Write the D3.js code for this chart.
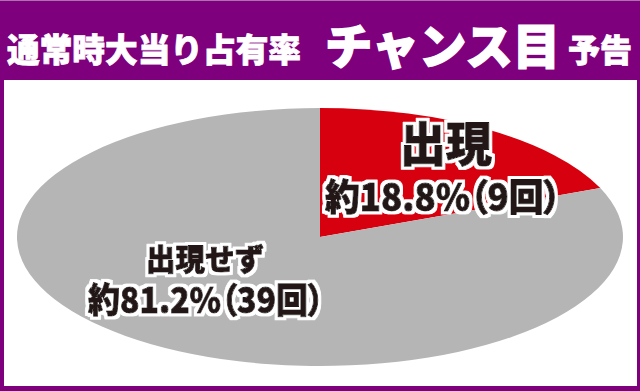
<!DOCTYPE html>
<html><head><meta charset="utf-8">
<script src="https://cdn.jsdelivr.net/npm/d3@7"></script>
<style>
html,body{margin:0;padding:0;background:#fff;}
svg{display:block;}
text{font-family:"Noto Sans CJK JP","Noto Sans CJK SC",sans-serif;}
.pct{font-feature-settings:"palt";}
</style></head>
<body>
<script>
const titleParts = ["通常時大当り占有率", "チャンス目", "予告"];
const categories = ["出現", "出現せず"];
const percents = [18.8, 81.2];
const counts = [9, 39];
const colors = ["#d7000f", "#b5b5b6"];

const W = 640, H = 391;
const svg = d3.select("body").append("svg").attr("width", W).attr("height", H);

// halo filter
const defs = svg.append("defs");
function haloFilter(id, r){
  const f = defs.append("filter").attr("id", id)
    .attr("x","-10%").attr("y","-30%").attr("width","120%").attr("height","160%");
  f.append("feMorphology").attr("in","SourceAlpha").attr("operator","dilate").attr("radius",r).attr("result","d");
  f.append("feGaussianBlur").attr("in","d").attr("stdDeviation",0.5).attr("result","db");
  f.append("feFlood").attr("flood-color","#fff").attr("result","w");
  f.append("feComposite").attr("in","w").attr("in2","db").attr("operator","in").attr("result","halo");
  const m = f.append("feMerge");
  m.append("feMergeNode").attr("in","halo");
  m.append("feMergeNode").attr("in","SourceGraphic");
}
haloFilter("halo3", 3.2);
haloFilter("halo2", 2.8);

// frame
svg.append("rect").attr("x",0).attr("y",0).attr("width",W).attr("height",H).attr("fill","#7f007c");
svg.append("rect").attr("x",0).attr("y",0).attr("width",W).attr("height",1).attr("fill","#b070b0");
svg.append("rect").attr("x",4).attr("y",80).attr("width",633).attr("height",306).attr("fill","#fff");

// title
const t = svg.append("g").attr("fill","#fff").attr("font-weight",900)
  .attr("stroke","#fff").attr("stroke-width",0.8);
t.append("text").attr("x",7).attr("y",48).attr("dominant-baseline","central")
  .attr("font-size",33).attr("textLength",294).attr("lengthAdjust","spacingAndGlyphs").text(titleParts[0]);
t.append("text").attr("x",325).attr("y",43).attr("dominant-baseline","central")
  .attr("font-size",48).attr("stroke-width",1.5).attr("textLength",235).attr("lengthAdjust","spacingAndGlyphs").text(titleParts[1]);
t.append("text").attr("x",568).attr("y",48).attr("dominant-baseline","central")
  .attr("font-size",32).attr("textLength",64).attr("lengthAdjust","spacingAndGlyphs").text(titleParts[2]);

// pie (elliptical)
const cx = 320, cy = 237, rx = 303, ry = 129;
const pie = d3.pie().sort(null).value(d => d)(percents);
const arc = d3.arc().innerRadius(0).outerRadius(rx);
const g = svg.append("g").attr("transform", `translate(${cx},${cy}) scale(1,${ry/rx})`);
g.selectAll("path").data(pie).join("path")
  .attr("d", arc).attr("fill", (d,i) => colors[i]);

// labels
function label(x, y, txt, size, len, filt, cls){
  svg.append("text").attr("x",x).attr("y",y)
    .attr("class", cls || null)
    .attr("text-anchor","middle").attr("dominant-baseline","central")
    .attr("font-weight",900).attr("font-size",size)
    .attr("fill","#231815").attr("stroke","#231815").attr("stroke-width",1)
    .attr("stroke-linejoin","round").attr("filter",`url(#${filt})`)
    .attr("textLength",len).attr("lengthAdjust","spacingAndGlyphs")
    .text(txt);
}
label(446, 140, categories[0], 47, 92, "halo3");
label(443, 195, `約${percents[0]}%（${counts[0]}回）`, 37, 236, "halo3", "pct");
label(205, 257, categories[1], 30, 118, "halo2");
label(206, 297, `約${percents[1]}%（${counts[1]}回）`, 35, 236, "halo2", "pct");
</script>
</body></html>
